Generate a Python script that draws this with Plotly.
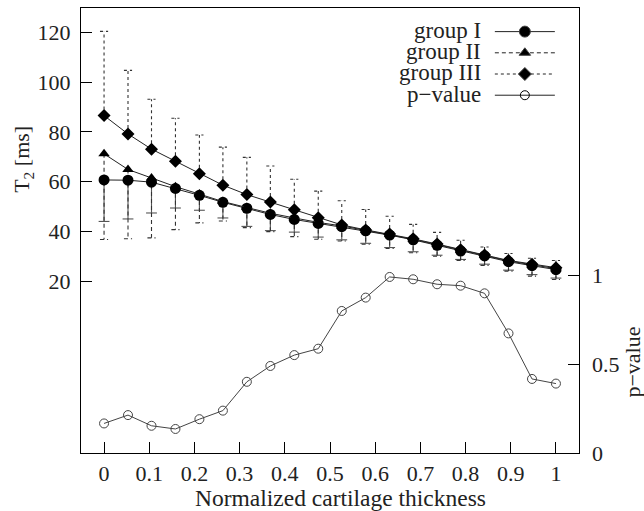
import plotly.graph_objects as go

# ---------------- data ----------------
thickness = [0, 0.053, 0.105, 0.158, 0.211, 0.263, 0.316, 0.368, 0.421, 0.474,
             0.526, 0.579, 0.632, 0.684, 0.737, 0.789, 0.842, 0.895, 0.947, 1.0]
x_ticks = [0, 0.1, 0.2, 0.3, 0.4, 0.5, 0.6, 0.7, 0.8, 0.9, 1.0]
x_ticklabels = ["0", "0.1", "0.2", "0.3", "0.4", "0.5", "0.6", "0.7", "0.8", "0.9", "1"]
t2_ticks = [20, 40, 60, 80, 100, 120]
p_ticks = [0, 0.5, 1]
p_ticklabels = ["0", "0.5", "1"]

group_I = [60.7, 60.6, 59.8, 57.3, 54.5, 51.7, 49.3, 46.8, 44.8, 43.2,
           41.9, 40.2, 38.5, 36.6, 34.4, 32.1, 30.1, 27.8, 26.2, 24.6]
group_I_sd = [16.7, 15.6, 12.4, 7.9, 6.0, 6.3, 7.3, 6.5, 5.1, 5.5,
              5.3, 5.0, 5.0, 4.8, 4.0, 3.4, 3.3, 3.4, 3.6, 3.4]

group_II = [71.2, 64.9, 61.5, 58.0, 55.0, 52.0, 49.6, 47.3, 45.4, 43.6,
            42.2, 40.4, 38.7, 36.8, 34.7, 32.4, 30.3, 28.1, 26.5, 25.0]
group_II_sd = [34.5, 27.9, 24.1, 17.3, 11.6, 7.8, 8.1, 7.4, 7.5, 6.8,
               6.1, 5.6, 5.6, 5.4, 4.7, 4.1, 4.0, 4.1, 4.5, 4.4]

group_III = [86.6, 79.2, 73.1, 68.2, 63.2, 58.6, 54.8, 51.8, 48.7, 45.5,
             42.6, 40.6, 38.9, 37.0, 34.9, 32.6, 30.5, 28.3, 26.8, 25.4]
group_III_sd = [33.9, 25.6, 20.1, 17.3, 15.6, 15.3, 15.0, 14.5, 12.3, 10.7,
                9.7, 8.2, 7.2, 5.8, 4.7, 3.8, 3.2, 2.8, 2.4, 2.9]

p_value = [0.166, 0.213, 0.153, 0.135, 0.19, 0.238, 0.40, 0.489, 0.55, 0.586,
           0.798, 0.873, 0.989, 0.976, 0.948, 0.94, 0.897, 0.672, 0.416, 0.39]

legend_names = ["group I", "group II", "group III", "p\u2212value"]

# ---------------- style ----------------
FONT = "Liberation Serif"
FS = 22
CAP_I = 0.012
CAP = 0.009


def err_segments(xs, means, sds, direction, cap):
    ex, ey = [], []
    for xv, m, s in zip(xs, means, sds):
        end = m + direction * s
        ex += [xv, xv, None, xv - cap, xv + cap, None]
        ey += [m, end, None, end, end, None]
    return ex, ey


fig = go.Figure()

# error bars (group I & II downward, group III upward)
for means, sds, direc, cap, dash, col in [
    (group_I, group_I_sd, -1, CAP_I, "solid", "#555555"),
    (group_II, group_II_sd, -1, CAP, "4px,3px", "#333333"),
    (group_III, group_III_sd, +1, CAP, "3px,3px", "#333333"),
]:
    ex, ey = err_segments(thickness, means, sds, direc, cap)
    fig.add_trace(go.Scatter(x=ex, y=ey, mode="lines",
                             line=dict(color=col, width=1.1, dash=dash),
                             showlegend=False, hoverinfo="skip"))

# mean curves
for means, sym, size in [(group_I, "circle", 11), (group_II, "triangle-up", 10),
                         (group_III, "diamond", 10)]:
    fig.add_trace(go.Scatter(x=thickness, y=means, mode="lines+markers",
                             line=dict(color="#222222", width=1),
                             marker=dict(symbol=sym, size=size, color="black"),
                             showlegend=False))

# p-value curve on right axis
fig.add_trace(go.Scatter(x=thickness, y=p_value, yaxis="y2", mode="lines+markers",
                         line=dict(color="#444444", width=1),
                         marker=dict(symbol="circle-open", size=9,
                                     color="#444444", line=dict(width=1)),
                         showlegend=False))

# legend samples (text is placed as annotations, to the left of the sample)
for dash, sym, size in [("solid", "circle", 11), ("4px,3px", "triangle-up", 10),
                        ("3px,3px", "diamond", 10), ("solid", "circle-open", 9)]:
    fig.add_trace(go.Scatter(x=[None], y=[None], mode="lines+markers", name=" ",
                             line=dict(color="#222222", width=1, dash=dash),
                             marker=dict(symbol=sym, size=size, color="black",
                                         line=dict(width=1, color="#444444")),
                             showlegend=True))

axis_common = dict(showgrid=False, zeroline=False, ticks="inside", ticklen=11,
                   tickwidth=1.2, tickcolor="black", linecolor="black",
                   linewidth=1.2, tickfont=dict(family=FONT, size=FS, color="#222"))

fig.update_layout(
    width=644, height=511,
    margin=dict(l=81, r=65, t=8, b=58),
    paper_bgcolor="white", plot_bgcolor="white",
    font=dict(family=FONT, size=FS, color="#222"),
    xaxis=dict(range=[-0.051, 1.051], tickvals=x_ticks, ticktext=x_ticklabels,
               showline=True, mirror=True, ticklabelstandoff=0, **axis_common),
    yaxis=dict(range=[-49.2, 129.9], tickvals=t2_ticks,
               showline=True, mirror=True, ticklabelstandoff=5, **axis_common),
    yaxis2=dict(range=[0, 2.5], tickvals=p_ticks, ticktext=p_ticklabels,
                overlaying="y", side="right", showline=False,
                ticklabelstandoff=12, **axis_common),
    legend=dict(x=0.821, y=0.982, xanchor="left", yanchor="top",
                bgcolor="rgba(0,0,0,0)", borderwidth=0, itemwidth=60,
                font=dict(family=FONT, size=14), tracegroupgap=0),
    showlegend=True,
)

annotations = [
    dict(text="T<sub>2</sub> [ms]", xref="paper", yref="paper", x=-0.1165, y=0.661,
         textangle=-90, showarrow=False, xanchor="center", yanchor="middle"),
    dict(text="p\u2212value", xref="paper", yref="paper", x=1.108, y=0.205,
         textangle=-90, showarrow=False, xanchor="center", yanchor="middle"),
    dict(text="Normalized cartilage thickness", xref="paper", yref="paper",
         x=0.522, y=-0.102, showarrow=False, xanchor="center", yanchor="middle",
         font=dict(family=FONT, size=23.5, color="#222")),
]
leg_y = [0.950, 0.902, 0.854, 0.805]
for name, yy in zip(legend_names, leg_y):
    annotations.append(dict(text=name, xref="paper", yref="paper", x=0.807, y=yy,
                            showarrow=False, xanchor="right", yanchor="middle",
                            font=dict(family=FONT, size=23, color="#222")))
fig.update_layout(annotations=annotations)

fig.write_html("out.html", config={"displayModeBar": False},
               post_script="document.body.style.margin='0';document.body.style.padding='0';")
